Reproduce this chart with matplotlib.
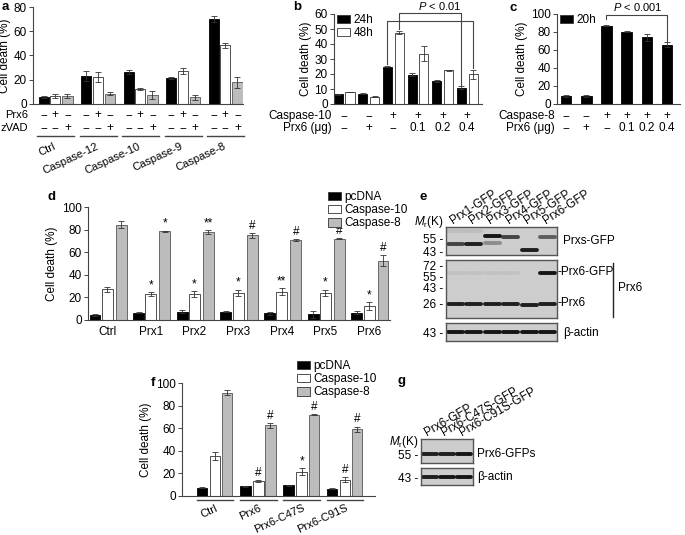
import numpy as np
import matplotlib.pyplot as plt
from matplotlib import transforms
from matplotlib.patches import Patch

plt.rcParams['font.family'] = ['Liberation Sans', 'DejaVu Sans']
plt.rcParams['font.size'] = 8
plt.rcParams['mathtext.fontset'] = 'custom'
plt.rcParams['mathtext.it'] = 'Liberation Sans:italic'
plt.rcParams['mathtext.rm'] = 'Liberation Sans'

# ---- panel a ----
a_groups = ['Ctrl', 'Caspase-12', 'Caspase-10', 'Caspase-9', 'Caspase-8']
a_ctrl = [6, 23, 26.5, 21.5, 70]
a_ctrl_err = [1, 4, 1.5, 0.5, 2.5]
a_prx6 = [6.5, 22, 12.5, 27, 48.5]
a_prx6_err = [1.5, 4, 1, 2.5, 2]
a_zvad = [6.5, 8.5, 7.5, 5.5, 18]
a_zvad_err = [1.5, 1, 3.5, 2, 4.5]
a_prx6_sign = ['−', '+', '−']
a_zvad_sign = ['−', '−', '+']

# ---- panel b ----
b_casp10 = ['−', '−', '+', '+', '+', '+']
b_prx6 = ['−', '+', '−', '0.1', '0.2', '0.4']
b_24h = [6.5, 7, 25, 19.5, 15.5, 11]
b_24h_err = [0.4, 0.3, 0.4, 1, 0.5, 1]
b_48h = [8, 5, 47.5, 33.5, 22.5, 20]
b_48h_err = [0.3, 0.5, 1, 5, 0.3, 3]

# ---- panel c ----
c_casp8 = ['−', '−', '+', '+', '+', '+']
c_prx6 = ['−', '+', '−', '0.1', '0.2', '0.4']
c_20h = [8.5, 8.5, 87, 80.5, 74, 66]
c_20h_err = [1, 1, 0.5, 1, 3.5, 2.5]

# ---- panel d ----
d_groups = ['Ctrl', 'Prx1', 'Prx2', 'Prx3', 'Prx4', 'Prx5', 'Prx6']
d_pcdna = [4.5, 6.5, 7.5, 7.5, 6, 5, 6.5]
d_pcdna_err = [1, 0.3, 1, 0.5, 1.5, 3, 1.5]
d_c10 = [27, 23, 23, 24, 25, 24, 12]
d_c10_err = [2, 1.5, 2.5, 2.5, 3, 2.5, 3.5]
d_c8 = [84.5, 78.5, 78, 75, 71, 72, 52.5]
d_c8_err = [3.5, 0.5, 1.5, 2, 1, 0.3, 5]
d_c10_mark = ['', '*', '*', '*', '**', '*', '*']
d_c8_mark = ['', '*', '**', '#', '#', '#', '#']

# ---- panel f ----
f_groups = ['Ctrl', 'Prx6', 'Prx6-C47S', 'Prx6-C91S']
f_pcdna = [7.5, 8.5, 9.5, 6.5]
f_pcdna_err = [0.3, 0.3, 0.5, 0.5]
f_c10 = [35, 13, 21.5, 14.5]
f_c10_err = [3.5, 1, 3, 2]
f_c8 = [91.5, 62.5, 72, 59]
f_c8_err = [2, 2, 0.5, 2.5]
f_c10_mark = ['', '#', '*', '#']
f_c8_mark = ['', '#', '#', '#']

# ---- blots (lane, kDa, strength) ----
e_lanes = ['Prx1-GFP', 'Prx2-GFP', 'Prx3-GFP', 'Prx4-GFP', 'Prx5-GFP', 'Prx6-GFP']
e_top_mw = [55, 43]
e_top_bands = [(0, 50, 0.75), (1, 50, 0.95), (2, 58, 1.0), (2, 51, 0.35),
               (3, 57, 0.75), (4, 45, 0.95), (5, 57, 0.6), (0, 62, 0.08), (1, 62, 0.08)]
e_mid_mw = [72, 55, 43, 26]
e_mid_bands = [(0, 25, 0.95), (1, 25, 0.95), (2, 25, 0.95), (3, 25, 0.95),
               (4, 24, 0.95), (5, 25, 0.95), (5, 59, 1.0),
               (0, 60, 0.06), (1, 60, 0.06), (2, 60, 0.06), (3, 60, 0.06)]
e_bot_mw = [43]
e_bot_bands = [(i, 43, 1.0) for i in range(6)]

g_lanes = ['Prx6-GFP', 'Prx6-C47S-GFP', 'Prx6-C91S-GFP']
g_top_mw = [55]
g_top_bands = [(0, 55, 0.95), (1, 55, 0.95), (2, 55, 1.0)]
g_bot_mw = [43]
g_bot_bands = [(0, 43, 0.95), (1, 43, 1.0), (2, 43, 1.0)]

W, H = 685, 535
fig = plt.figure(figsize=(W / 100, H / 100), dpi=100)
ov = fig.add_axes([0, 0, 1, 1])
ov.set_xlim(0, W)
ov.set_ylim(H, 0)
ov.axis('off')

EC = '#333333'
GRAY = '#bcbcbc'


def box(x0, y0, x1, y1):
    return fig.add_axes([x0 / W, 1 - y1 / H, (x1 - x0) / W, (y1 - y0) / H])


def style(ax, ymax, step, xlim):
    ax.set_xlim(*xlim)
    ax.set_ylim(0, ymax)
    ax.set_yticks(np.arange(0, ymax + 1, step))
    for s in ['top', 'right']:
        ax.spines[s].set_visible(False)
    for s in ['left', 'bottom']:
        ax.spines[s].set_color('#444444')
        ax.spines[s].set_linewidth(0.8)
    ax.tick_params(axis='y', length=3, width=0.7, color='#444444', pad=1.5, labelsize=8.5)
    ax.set_xticks([])
    ax.patch.set_alpha(0)


def bars(ax, x, vals, errs, off, w, fc, ec):
    ax.bar(np.asarray(x) + off, vals, w, color=fc, edgecolor=ec, linewidth=0.6,
           yerr=errs, error_kw=dict(ecolor=EC, elinewidth=0.6, capsize=2.2, capthick=0.6))


def marks(ax, x, vals, errs, off, labels):
    for xi, v, e, m in zip(x, vals, errs, labels):
        if m:
            ax.text(xi + off, v + e + 1, m, ha='center', va='bottom', fontsize=8.5)


def legend(ax, labels, colors, xy):
    hs = [Patch(facecolor=c, edgecolor=EC, linewidth=0.6) for c in colors]
    ax.legend(hs, labels, loc='upper left', bbox_to_anchor=xy, bbox_transform=ov.transData,
              frameon=False, fontsize=8.5, handlelength=1.1, handleheight=0.75,
              handletextpad=0.3, labelspacing=0.1, borderpad=0, borderaxespad=0)


def plabel(x, y, s):
    ov.text(x, y, s, fontsize=9.5, fontweight='bold', ha='left', va='center')


# ================= a =================
ax = box(33, 7, 243, 104)
style(ax, 80, 20, (-0.52, 4.42))
xa = np.arange(len(a_groups))
bars(ax, xa, a_ctrl, a_ctrl_err, -0.27, 0.24, 'black', 'black')
bars(ax, xa, a_prx6, a_prx6_err, 0, 0.24, 'white', EC)
bars(ax, xa, a_zvad, a_zvad_err, 0.29, 0.24, GRAY, '#555555')
ax.set_ylabel('Cell death (%)', fontsize=8.5, labelpad=2)
bt = transforms.blended_transform_factory(ax.transData, ov.transData)
for i, g in enumerate(a_groups):
    for off, s1, s2 in zip([-0.27, 0, 0.29], a_prx6_sign, a_zvad_sign):
        ax.text(i + off, 115, s1, transform=bt, ha='center', va='center', fontsize=8.5)
        ax.text(i + off, 128, s2, transform=bt, ha='center', va='center', fontsize=8.5)
    ax.plot([i - 0.42, i + 0.45], [136, 136], transform=bt, clip_on=False, color='#444444', lw=1)
    ax.text(i + 0.05, 141, g, transform=bt, rotation=25, ha='right', va='top', fontsize=8)
ov.text(28, 115, 'Prx6', ha='right', va='center', fontsize=8)
ov.text(28, 128, 'zVAD', ha='right', va='center', fontsize=8)
plabel(2, 7, 'a')

# ================= b =================
ax = box(334, 14, 482, 104)
style(ax, 60, 10, (-0.41, 5.6))
xb = np.arange(len(b_24h))
bars(ax, xb, b_24h, b_24h_err, -0.24, 0.37, 'black', 'black')
bars(ax, xb, b_48h, b_48h_err, 0.24, 0.37, 'white', EC)
ax.set_ylabel('Cell death (%)', fontsize=8.5, labelpad=2)
legend(ax, ['24h', '48h'], ['black', 'white'], (337, 14))
bt = transforms.blended_transform_factory(ax.transData, ov.transData)
for i in xb:
    ax.text(i, 116, b_casp10[i], transform=bt, ha='center', va='center', fontsize=8.5)
    ax.text(i, 128, b_prx6[i], transform=bt, ha='center', va='center', fontsize=8.5)
ov.text(332, 116, 'Caspase-10', ha='right', va='center', fontsize=8.5)
ov.text(332, 128, 'Prx6 (μg)', ha='right', va='center', fontsize=8.5)
kw = dict(color='#444444', lw=0.8, clip_on=False)
ax.plot([2.24, 2.24, 4.76, 4.76], [49.8, 60.7, 60.7, 12.8], **kw)
ax.plot([1.76, 1.76, 5.24, 5.24], [26.5, 55.3, 55.3, 24], **kw)
ov.text(440, 6.5, '$\\it{P}$ < 0.01', ha='center', va='center', fontsize=8)
plabel(293, 7, 'b')

# ================= c =================
ax = box(557, 14, 680, 104)
style(ax, 100, 20, (-0.45, 5.64))
xc = np.arange(len(c_20h))
bars(ax, xc, c_20h, c_20h_err, 0, 0.52, 'black', 'black')
ax.set_ylabel('Cell death (%)', fontsize=8.5, labelpad=2)
legend(ax, ['20h'], ['black'], (560, 14))
bt = transforms.blended_transform_factory(ax.transData, ov.transData)
for i in xc:
    ax.text(i, 116, c_casp8[i], transform=bt, ha='center', va='center', fontsize=8.5)
    ax.text(i, 128, c_prx6[i], transform=bt, ha='center', va='center', fontsize=8.5)
ov.text(555, 116, 'Caspase-8', ha='right', va='center', fontsize=8.5)
ov.text(555, 128, 'Prx6 (μg)', ha='right', va='center', fontsize=8.5)
ax.plot([2, 2, 5, 5], [94.5, 98.9, 98.9, 69.5], **kw)
ov.text(638, 7, '$\\it{P}$ < 0.001', ha='center', va='center', fontsize=8)
plabel(510, 8, 'c')

# ================= d =================
ax = box(88, 207, 390, 320)
style(ax, 100, 20, (-0.44, 6.48))
xd = np.arange(len(d_groups))
bars(ax, xd, d_pcdna, d_pcdna_err, -0.28, 0.25, 'black', 'black')
bars(ax, xd, d_c10, d_c10_err, 0, 0.25, 'white', EC)
bars(ax, xd, d_c8, d_c8_err, 0.32, 0.25, GRAY, '#555555')
marks(ax, xd, d_c10, d_c10_err, 0, d_c10_mark)
marks(ax, xd, d_c8, d_c8_err, 0.32, d_c8_mark)
ax.set_ylabel('Cell death (%)', fontsize=8.5, labelpad=3)
legend(ax, ['pcDNA', 'Caspase-10', 'Caspase-8'], ['black', 'white', GRAY], (328, 191))
bt = transforms.blended_transform_factory(ax.transData, ov.transData)
for i, g in enumerate(d_groups):
    ax.text(i, 332, g, transform=bt, ha='center', va='center', fontsize=8.5)
plabel(48, 197, 'd')

# ================= f =================
ax = box(182, 383, 375, 496)
style(ax, 100, 20, (-0.76, 3.69))
xf = np.arange(len(f_groups))
bars(ax, xf, f_pcdna, f_pcdna_err, -0.3, 0.24, 'black', 'black')
bars(ax, xf, f_c10, f_c10_err, 0, 0.24, 'white', EC)
bars(ax, xf, f_c8, f_c8_err, 0.28, 0.24, GRAY, '#555555')
marks(ax, xf, f_c10, f_c10_err, 0, f_c10_mark)
marks(ax, xf, f_c8, f_c8_err, 0.28, f_c8_mark)
ax.set_ylabel('Cell death (%)', fontsize=8.5, labelpad=3)
legend(ax, ['pcDNA', 'Caspase-10', 'Caspase-8'], ['black', 'white', GRAY], (297, 360))
bt = transforms.blended_transform_factory(ax.transData, ov.transData)
for i, g in enumerate(f_groups):
    ax.plot([i - 0.42, i + 0.42], [500, 500], transform=bt, clip_on=False, color='#444444', lw=1)
    ax.text(i + 0.1, 503, g, transform=bt, rotation=25, ha='right', va='top', fontsize=8)
plabel(151, 383, 'f')


# ================= blots =================
def mw_px(kda, mw, px):
    mw = np.asarray(mw, float)
    px = np.asarray(px, float)
    if len(mw) == 1:
        return px[0]
    o = np.argsort(mw)
    mw, px = mw[o], px[o]
    if kda < mw[0]:
        return px[0] + (kda - mw[0]) * (px[1] - px[0]) / (mw[1] - mw[0])
    if kda > mw[-1]:
        return px[-1] + (kda - mw[-1]) * (px[-1] - px[-2]) / (mw[-1] - mw[-2])
    return np.interp(kda, mw, px)


def blot(rect, nlanes, mw, mw_pos, bands, lw=2.8):
    ax = box(*rect)
    ax.set_xlim(-0.5, nlanes - 0.5)
    ax.set_ylim(rect[3], rect[1])
    ax.set_facecolor('#cdcdcd')
    for s in ax.spines.values():
        s.set_color('#555555')
        s.set_linewidth(1)
    ax.set_xticks([])
    ax.set_yticks(mw_pos)
    ax.set_yticklabels([f'{m} -' for m in mw])
    ax.tick_params(axis='y', length=0, pad=2, labelsize=8.5)
    for lane, kda, a in bands:
        y = mw_px(kda, mw, mw_pos)
        ax.plot([lane - 0.4, lane + 0.4], [y, y], color='#151515', alpha=a, lw=lw,
                solid_capstyle='round')
    return ax


ax_e = blot((446, 227, 557, 255), 6, e_top_mw, [239, 252], e_top_bands)
blot((446, 260, 557, 318), 6, e_mid_mw, [265, 276, 287, 303], e_mid_bands)
blot((446, 323, 557, 341), 6, e_bot_mw, [332], e_bot_bands)
bt = transforms.blended_transform_factory(ax_e.transData, ov.transData)
for i, ln in enumerate(e_lanes):
    ax_e.text(i - 0.1, 224, ln, transform=bt, rotation=33, rotation_mode='anchor',
              ha='left', va='baseline', fontsize=8.5)
ov.text(444, 222, '$\\it{M}_{\\rm r}$(K)', ha='right', va='center', fontsize=8.5)
ov.text(563, 241, 'Prxs-GFP', ha='left', va='center', fontsize=8.5)
ov.text(558, 272, '-Prx6-GFP', ha='left', va='center', fontsize=8.5)
ov.text(558, 303, '-Prx6', ha='left', va='center', fontsize=8.5)
ov.text(563, 333, 'β-actin', ha='left', va='center', fontsize=8.5)
ov.plot([613, 613], [263, 317], color='#222222', lw=1)
ov.text(618, 288, 'Prx6', ha='left', va='center', fontsize=8.5)
plabel(420, 197, 'e')

ax_g = blot((421, 439, 473, 463), 3, g_top_mw, [454], g_top_bands)
blot((421, 468, 473, 485), 3, g_bot_mw, [477], g_bot_bands)
bt = transforms.blended_transform_factory(ax_g.transData, ov.transData)
for i, ln in enumerate(g_lanes):
    ax_g.text(i - 0.15, 436, ln, transform=bt, rotation=30, rotation_mode='anchor',
              ha='left', va='baseline', fontsize=8.5)
ov.text(419, 442, '$\\it{M}_{\\rm r}$(K)', ha='right', va='center', fontsize=8.5)
ov.text(477, 454, 'Prx6-GFPs', ha='left', va='center', fontsize=8.5)
ov.text(477, 477, 'β-actin', ha='left', va='center', fontsize=8.5)
plabel(398, 381, 'g')

fig.savefig('out.png', dpi=100)
